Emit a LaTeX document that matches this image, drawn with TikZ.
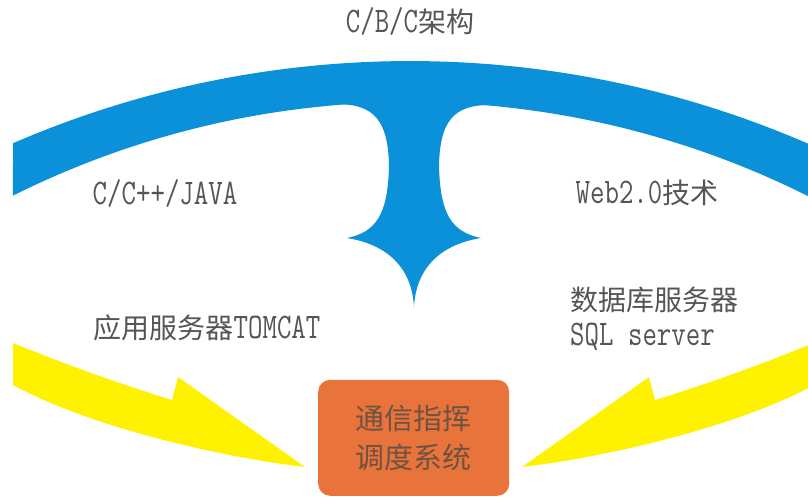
\documentclass[tikz,border=0pt]{standalone}
\usepackage{fontspec}
\usepackage{graphicx}
\usetikzlibrary{calc}
\newfontfamily\cjkfont{Noto Sans CJK SC}
\newcommand\zh[1]{{\cjkfont\fontsize{28}{34}\selectfont #1}}
\newcommand\lat[1]{\scalebox{0.78}[1]{#1}}
\definecolor{arcblue}{HTML}{0A91DA}
\definecolor{arrowyellow}{HTML}{FFF200}
\definecolor{boxorange}{HTML}{E8743C}
\definecolor{txtgray}{HTML}{555555}
\definecolor{boxtxt}{HTML}{6E5242}
\tikzset{
  lbl/.style={inner sep=0pt, text=txtgray, font=\ttfamily\fontsize{36}{40}\selectfont},
  boxlbl/.style={inner sep=0pt, text=boxtxt, font=\cjkfont\fontsize{29}{34}\selectfont},
  sysbox/.style={fill=boxorange, rounded corners=12pt, draw=none},
  bluearc/.style={fill=arcblue, draw=none},
  yarrow/.style={fill=arrowyellow, draw=none}
}
\begin{document}
\begin{tikzpicture}[x=1pt,y=1pt]
\useasboundingbox (0,0) rectangle (808,497);
\fill[white] (0,0) rectangle (808,497);
\clip (0,0) rectangle (808,497);

% blue arc with stem
\fill[bluearc] (410,-564) ++(113.39:1000)
  arc[start angle=113.39, end angle=65.17, radius=1000]
  -- ($(410,-494)+(61.8:889)$)
  arc[start angle=61.8, end angle=85.16, radius=889]
  .. controls (448,391) and (440,367) .. (439,332)
  .. controls (440,282) and (452,265) .. (481,259)
  .. controls (438,252) and (416,227) .. (414,190)
  .. controls (412,227) and (390,252) .. (347,259)
  .. controls (376,265) and (388,282) .. (389,332)
  .. controls (388,367) and (380,391) .. ($(410,-494)+(94.26:889)$)
  arc[start angle=94.26, end angle=116.53, radius=889]
  -- cycle;

% yellow arrows
\fill[yarrow] (13,154) .. controls (70,131) and (120,113) .. (172,97)
  -- (178,120) -- (305,30)
  .. controls (220,40) and (90,70) .. (13,112) -- cycle;
\fill[yarrow] (814,154) .. controls (757,131) and (707,113) .. (655,97)
  -- (649,120) -- (522,30)
  .. controls (607,40) and (737,70) .. (814,112) -- cycle;

% central box
\node[sysbox, minimum width=191pt, minimum height=116pt, anchor=south west] (sys) at (318,1) {};
\node[boxlbl, anchor=base] (sys1) at (413.5,67) {通信指挥};
\node[boxlbl, anchor=base] (sys2) at (413.5,28) {调度系统};

% labels
\node[lbl, anchor=base] (title) at (410,464) {\lat{C/B/C}\zh{架构}};
\node[lbl, anchor=base] (lang) at (165,292) {\lat{C/C++/JAVA}};
\node[lbl, anchor=base] (web) at (647,293) {\lat{Web2.0}\zh{技术}};
\node[lbl, anchor=base] (app) at (207,158) {\zh{应用服务器}\lat{TOMCAT}};
\node[lbl, anchor=base west] (db1) at (570,186) {\zh{数据库服务器}};
\node[lbl, anchor=base west] (db2) at (570,151) {\lat{SQL server}};
\end{tikzpicture}
\end{document}
